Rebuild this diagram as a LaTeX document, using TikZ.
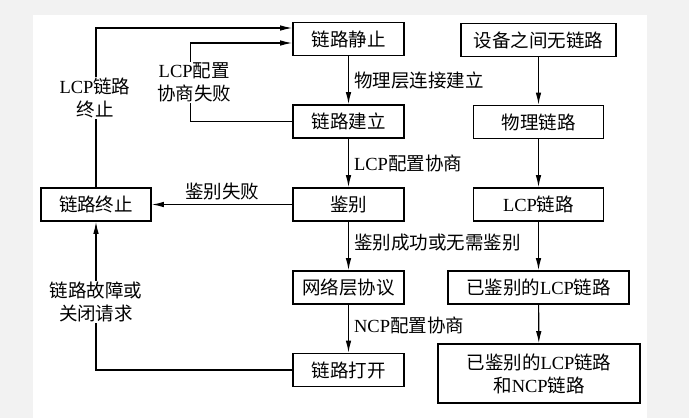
\documentclass[tikz,border=0pt]{standalone}
\usepackage{fontspec}
\setmainfont{Noto Sans CJK SC}
\newfontfamily\latin{Liberation Serif}
\usetikzlibrary{arrows.meta}
\tikzset{
  box/.style={draw, line width=1.6pt, minimum height=33pt, inner sep=2pt,
    font=\fontsize{18.5}{23}\selectfont},
  flow/.style={line width=1.2pt, -{Latex[length=12pt,width=5.5pt]}},
  lbl/.style={font=\fontsize{18.5}{23}\selectfont, align=center, inner sep=1pt},
}
\begin{document}
\begin{tikzpicture}[x=1pt, y=-1pt]
    \fill[gray!10] (0,0) rectangle (689,418);
    \fill[white] (33,15) rectangle (647,418);
    \useasboundingbox (0,0) rectangle (689,418);
    % left column: PPP link phases
    \node[box, minimum width=111pt] (quiet) at (348.5,39) {链路静止};
    \node[box, minimum width=111pt] (setup) at (348.5,121.5) {链路建立};
    \node[box, minimum width=111pt] (auth) at (348.5,204.5) {鉴别};
    \node[box, minimum width=111pt] (netlayer) at (348.5,287.5) {网络层协议};
    \node[box, minimum width=111pt] (open) at (348.5,370) {链路打开};
    \node[box, minimum width=110pt] (stop) at (96,204.5) {链路终止};
    % right column: link states
    \node[box, minimum width=155pt] (nolink) at (538.5,40) {设备之间无链路};
    \node[box, minimum width=130pt] (phys) at (538.5,122) {物理链路};
    \node[box, minimum width=130pt] (lcp) at (538.5,204.5) {{\latin LCP}链路};
    \node[box, minimum width=181pt] (authlcp) at (538.5,287.5) {已鉴别的{\latin LCP}链路};
    \node[box, minimum width=202pt, minimum height=59pt, align=center] (ncp) at (539,373.5)
        {已鉴别的{\latin LCP}链路\\和{\latin NCP}链路};
    % phase transitions
    \draw[flow] (quiet) -- (setup)
        node[lbl, midway, right, xshift=4pt] {物理层连接建立};
    \draw[flow] (setup) -- (auth)
        node[lbl, midway, right, xshift=4pt] {{\latin LCP}配置协商};
    \draw[flow] (auth) -- (netlayer)
        node[lbl, midway, right, xshift=4pt, yshift=3pt] {鉴别成功或无需鉴别};
    \draw[flow] (netlayer) -- (open)
        node[lbl, midway, right, xshift=4pt, yshift=3pt] {{\latin NCP}配置协商};
    \draw[flow] (auth) -- (stop)
        node[lbl, midway, above, yshift=3pt] {鉴别失败};
    \draw[flow] (stop.north) |- ([yshift=11pt]quiet.west)
        node[lbl, pos=0.28, fill=white, xshift=-1pt] {{\latin LCP}链路\\终止};
    \draw[flow] (setup.west) -- ++(-102,0) |- ([yshift=-4pt]quiet.west)
        node[lbl, pos=0.25, fill=white, xshift=4pt] {{\latin LCP}配置\\协商失败};
    \draw[flow] (open.west) -| (stop.south)
        node[lbl, pos=0.73, fill=white] {链路故障或\\关闭请求};
    % link states
    \draw[flow] (nolink) -- (phys);
    \draw[flow] (phys) -- (lcp);
    \draw[flow] (lcp) -- (authlcp);
    \draw[flow] (authlcp) -- (ncp);
\end{tikzpicture}
\end{document}
